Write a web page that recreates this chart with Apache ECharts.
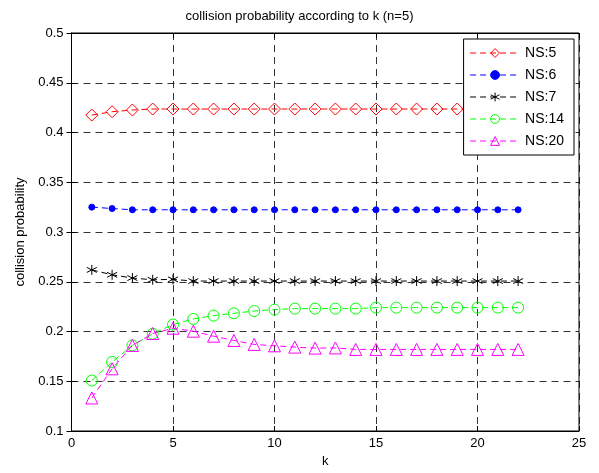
<!DOCTYPE html>
<html><head><meta charset="utf-8">
<script src="https://cdn.jsdelivr.net/npm/echarts@6/dist/echarts.min.js"></script>
<style>html,body{margin:0;padding:0;background:#fff}#c{width:599px;height:473px}</style>
</head><body><div id="c"></div>
<script>
var kValues = [1,2,3,4,5,6,7,8,9,10,11,12,13,14,15,16,17,18,19,20,21,22];
var ns5  = [0.4175,0.4209,0.4226,0.4236,0.4236,0.4236,0.4236,0.4236,0.4236,0.4236,0.4236,0.4236,0.4236,0.4236,0.4236,0.4236,0.4236,0.4236,0.4236,0.4236,0.4236,0.4236];
var ns6  = [0.3250,0.3236,0.3223,0.3223,0.3223,0.3223,0.3223,0.3223,0.3223,0.3223,0.3223,0.3223,0.3223,0.3223,0.3223,0.3223,0.3223,0.3223,0.3223,0.3223,0.3223,0.3223];
var ns7  = [0.2619,0.2570,0.2537,0.2520,0.2524,0.2507,0.2507,0.2507,0.2507,0.2507,0.2507,0.2507,0.2507,0.2507,0.2507,0.2507,0.2507,0.2507,0.2507,0.2507,0.2507,0.2507];
var ns14 = [0.1507,0.1694,0.1860,0.1977,0.2070,0.2126,0.2160,0.2183,0.2206,0.2220,0.2230,0.2230,0.2230,0.2230,0.2240,0.2240,0.2240,0.2240,0.2240,0.2240,0.2240,0.2240];
var ns20 = [0.1332,0.1625,0.1860,0.1980,0.2033,0.2003,0.1953,0.1910,0.1870,0.1856,0.1843,0.1833,0.1835,0.1820,0.1820,0.1820,0.1820,0.1820,0.1820,0.1820,0.1820,0.1820];
var seriesNames = ['NS:5','NS:6','NS:7','NS:14','NS:20'];
var xTicks = [0,5,10,15,20,25];
var yTicks = [0.1,0.15,0.2,0.25,0.3,0.35,0.4,0.45,0.5];

function pairs(arr){ return arr.map(function(v,i){ return [kValues[i], v]; }); }
var FONT = 'Liberation Sans, Arial, sans-serif';
var star = 'path://M5,0L5,10M0.5,2.5L9.5,7.5M9.5,2.5L0.5,7.5';

function mk(name, data, color, symbol, size, filled){
  return {
    name: name, type: 'line', data: pairs(data),
    symbol: symbol, symbolSize: size, showSymbol: true,
    lineStyle: {color: color, width: 1, type: [6,4]},
    itemStyle: {color: filled ? color : 'rgba(0,0,0,0)', borderColor: color, borderWidth: 1},
    emphasis: {disabled: true}, animation: false, z: 3
  };
}

var chart = echarts.init(document.getElementById('c'), null, {renderer: 'canvas'});
var gridDash = {show: true, lineStyle: {color: '#000', type: [7,5], width: 0.8}};
chart.setOption({
  backgroundColor: '#fff',
  animation: false,
  title: {text: 'collision probability according to k (n=5)', left: 'center', top: 5,
    textStyle: {fontFamily: FONT, fontSize: 13, fontWeight: 'normal', color: '#000'}},
  grid: {left: 71.5, right: 20, top: 33, bottom: 39, containLabel: false,
    show: true, borderColor: '#000', borderWidth: 1},
  legend: {
    orient: 'vertical', right: 25, top: 39, data: seriesNames,
    backgroundColor: '#fff', borderColor: '#000', borderWidth: 1, padding: [6, 10, 6, 6],
    itemWidth: 50, itemHeight: 11, itemGap: 6,
    lineStyle: {width: 1},
    itemStyle: {borderWidth: 1},
    textStyle: {fontFamily: FONT, fontSize: 14, color: '#000', lineHeight: 16}
  },
  xAxis: [{
    type: 'value', min: 0, max: 25, interval: 5,
    name: 'k', nameLocation: 'middle', nameGap: 24,
    nameTextStyle: {fontFamily: FONT, fontSize: 13, color: '#000'},
    axisLine: {show: true, onZero: false, lineStyle: {color: '#000'}},
    axisTick: {show: true, inside: true, length: 5, lineStyle: {color: '#000'}},
    axisLabel: {fontFamily: FONT, fontSize: 13, color: '#000', margin: 6},
    splitLine: gridDash
  },{
    type: 'value', min: 0, max: 25, interval: 5, position: 'top',
    axisLine: {show: true, lineStyle: {color: '#000'}},
    axisTick: {show: true, inside: true, length: 5, lineStyle: {color: '#000'}},
    axisLabel: {show: false}, splitLine: {show: false}
  }],
  yAxis: [{
    type: 'value', min: 0.1, max: 0.5, interval: 0.05,
    name: 'collision probability', nameLocation: 'middle', nameGap: 45, nameRotate: 90,
    nameTextStyle: {fontFamily: FONT, fontSize: 13, color: '#000'},
    axisLine: {show: true, onZero: false, lineStyle: {color: '#000'}},
    axisTick: {show: true, inside: true, length: 5, lineStyle: {color: '#000'}},
    axisLabel: {fontFamily: FONT, fontSize: 13, color: '#000', margin: 8,
      formatter: function(v){ return String(parseFloat(v.toFixed(2))); }},
    splitLine: gridDash
  },{
    type: 'value', min: 0.1, max: 0.5, interval: 0.05, position: 'right',
    axisLine: {show: true, lineStyle: {color: '#000'}},
    axisTick: {show: true, inside: true, length: 5, lineStyle: {color: '#000'}},
    axisLabel: {show: false}, splitLine: {show: false}
  }],
  series: [
    mk(seriesNames[0], ns5, '#ff0000', 'diamond', 12, false),
    mk(seriesNames[1], ns6, '#0000ff', 'circle', 6, true),
    mk(seriesNames[2], ns7, '#000000', star, 10, false),
    mk(seriesNames[3], ns14, '#00ff00', 'circle', 11, false),
    mk(seriesNames[4], ns20, '#ff00ff', 'triangle', 12, false)
  ]
});
</script></body></html>
